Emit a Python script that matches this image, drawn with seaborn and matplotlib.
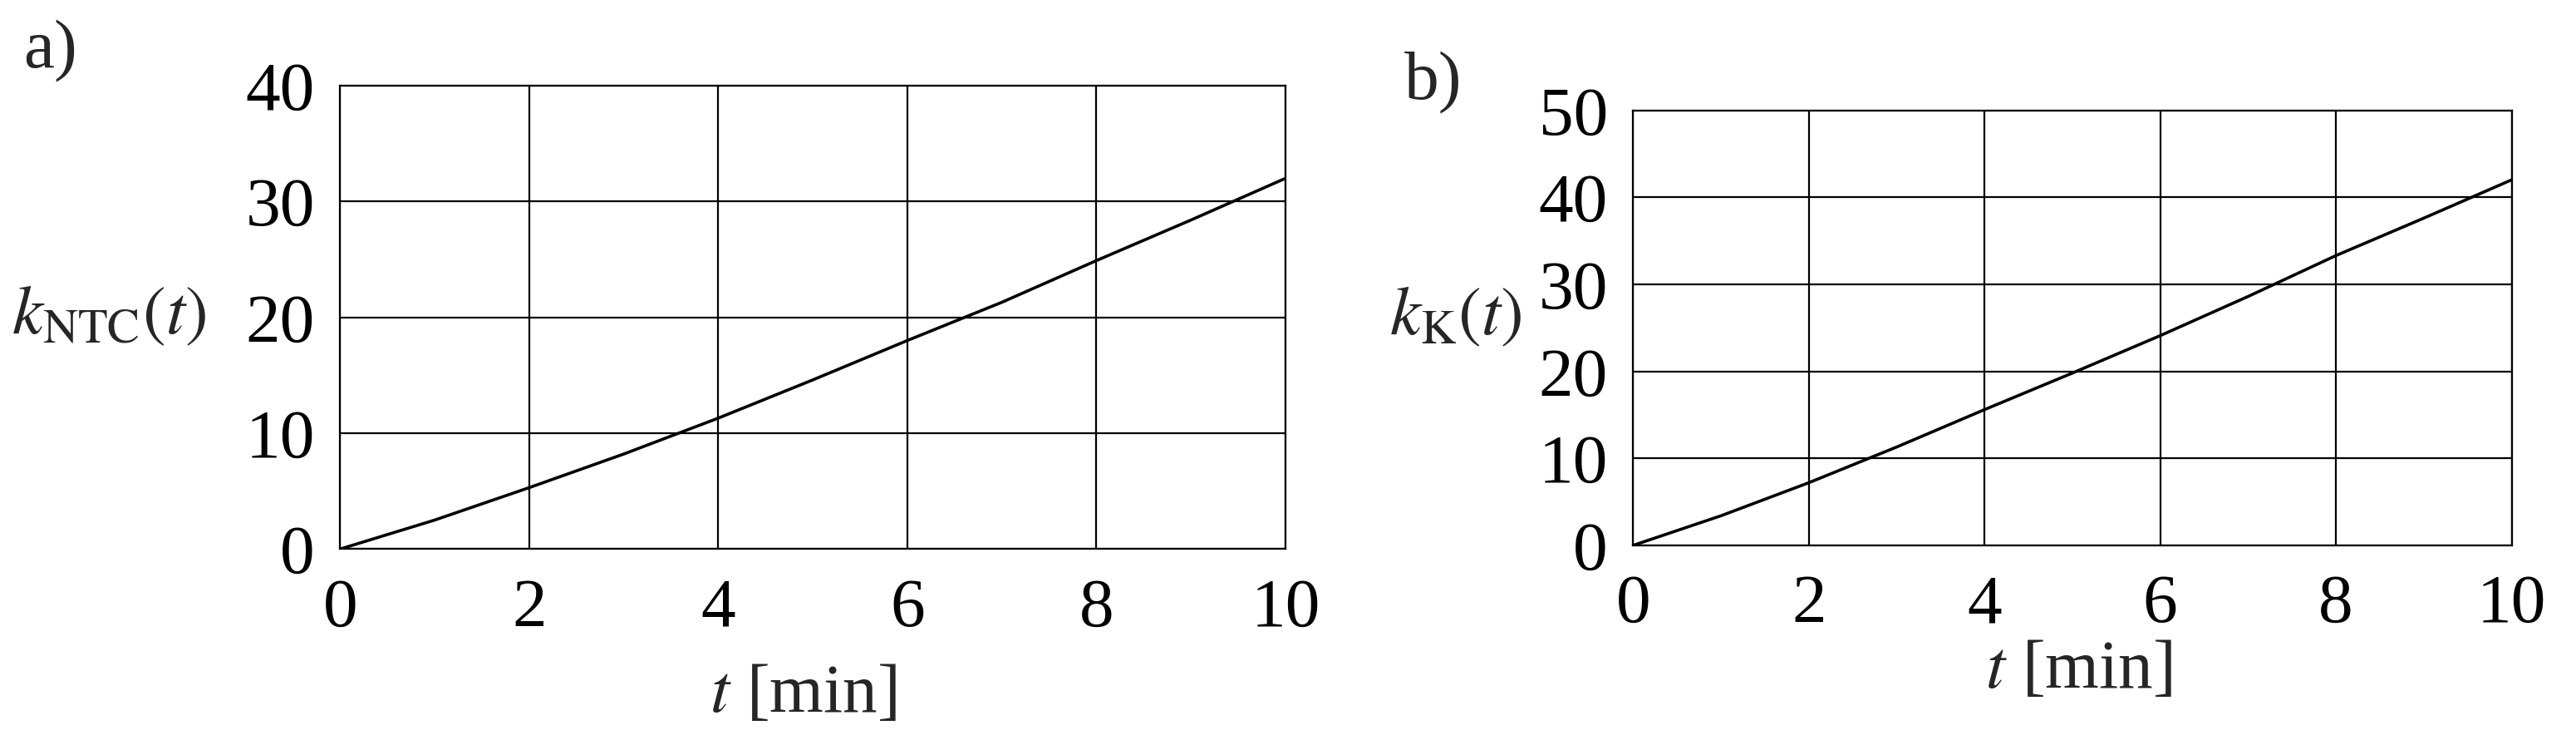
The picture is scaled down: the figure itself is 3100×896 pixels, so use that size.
import matplotlib
matplotlib.use("Agg")
import matplotlib.pyplot as plt
import seaborn as sns
import pandas as pd

# ---- data ----
t_min = [0, 1, 2, 3, 4, 5, 6, 7, 8, 9, 10]
k_ntc = [0.0, 2.5, 5.3, 8.2, 11.3, 14.6, 18.0, 21.3, 24.9, 28.4, 32.0]
k_k = [0.0, 3.4, 7.2, 11.3, 15.6, 19.8, 24.1, 28.6, 33.3, 37.6, 42.0]
x_ticks = [0, 2, 4, 6, 8, 10]
y_ticks_a = [0, 10, 20, 30, 40]
y_ticks_b = [0, 10, 20, 30, 40, 50]
panel_labels = ["a)", "b)"]
y_labels = [r"$k_{\mathrm{NTC}}(t)$", r"$k_{\mathrm{K}}(t)$"]
x_label = r"$t$ [min]"

sns.set_theme(style="white")
plt.rcParams["font.family"] = ["Liberation Serif", "DejaVu Serif"]
plt.rcParams["mathtext.fontset"] = "stix"

FS = 60

fig = plt.figure(figsize=(31, 8.96), dpi=100)
ax_a = fig.add_axes([0.132, 0.263, 0.367, 0.622])
ax_b = fig.add_axes([0.634, 0.268, 0.341, 0.584])

df_a = pd.DataFrame({"t": t_min, "k": k_ntc})
df_b = pd.DataFrame({"t": t_min, "k": k_k})

configs = [
    (ax_a, df_a, y_ticks_a, y_labels[0], (-0.142, 0.50), (0.49, -0.315)),
    (ax_b, df_b, y_ticks_b, y_labels[1], (-0.127, 0.522), (0.507, -0.29)),
]

for ax, df, yt, yl, ylc, xlc in configs:
    sns.lineplot(data=df, x="t", y="k", ax=ax, color="black", linewidth=2.6)
    ax.set_xlim(x_ticks[0], x_ticks[-1])
    ax.set_ylim(yt[0], yt[-1])
    ax.set_xticks(x_ticks)
    ax.set_yticks(yt)
    ax.set_xticklabels([str(v) for v in x_ticks], fontsize=FS)
    ax.set_yticklabels([str(v) for v in yt], fontsize=FS)
    ax.tick_params(axis="both", length=0, colors="black")
    ax.tick_params(axis="y", pad=22)
    ax.tick_params(axis="x", pad=25)
    ax.grid(True, color="black", linewidth=1.6)
    for s in ax.spines.values():
        s.set_visible(True)
        s.set_color("black")
        s.set_linewidth(1.6)
    ax.set_ylabel(yl, fontsize=FS, rotation=0, ha="right", va="center")
    ax.yaxis.set_label_coords(*ylc)
    ax.set_xlabel(x_label, fontsize=FS, va="center")
    ax.xaxis.set_label_coords(*xlc)

fig.text(28 / 3100, 1 - 62 / 896, panel_labels[0], fontsize=FS, ha="left", va="center")
fig.text(1690 / 3100, 1 - 100 / 896, panel_labels[1], fontsize=FS, ha="left", va="center")

fig.savefig("out.png", dpi=100, facecolor="white")
